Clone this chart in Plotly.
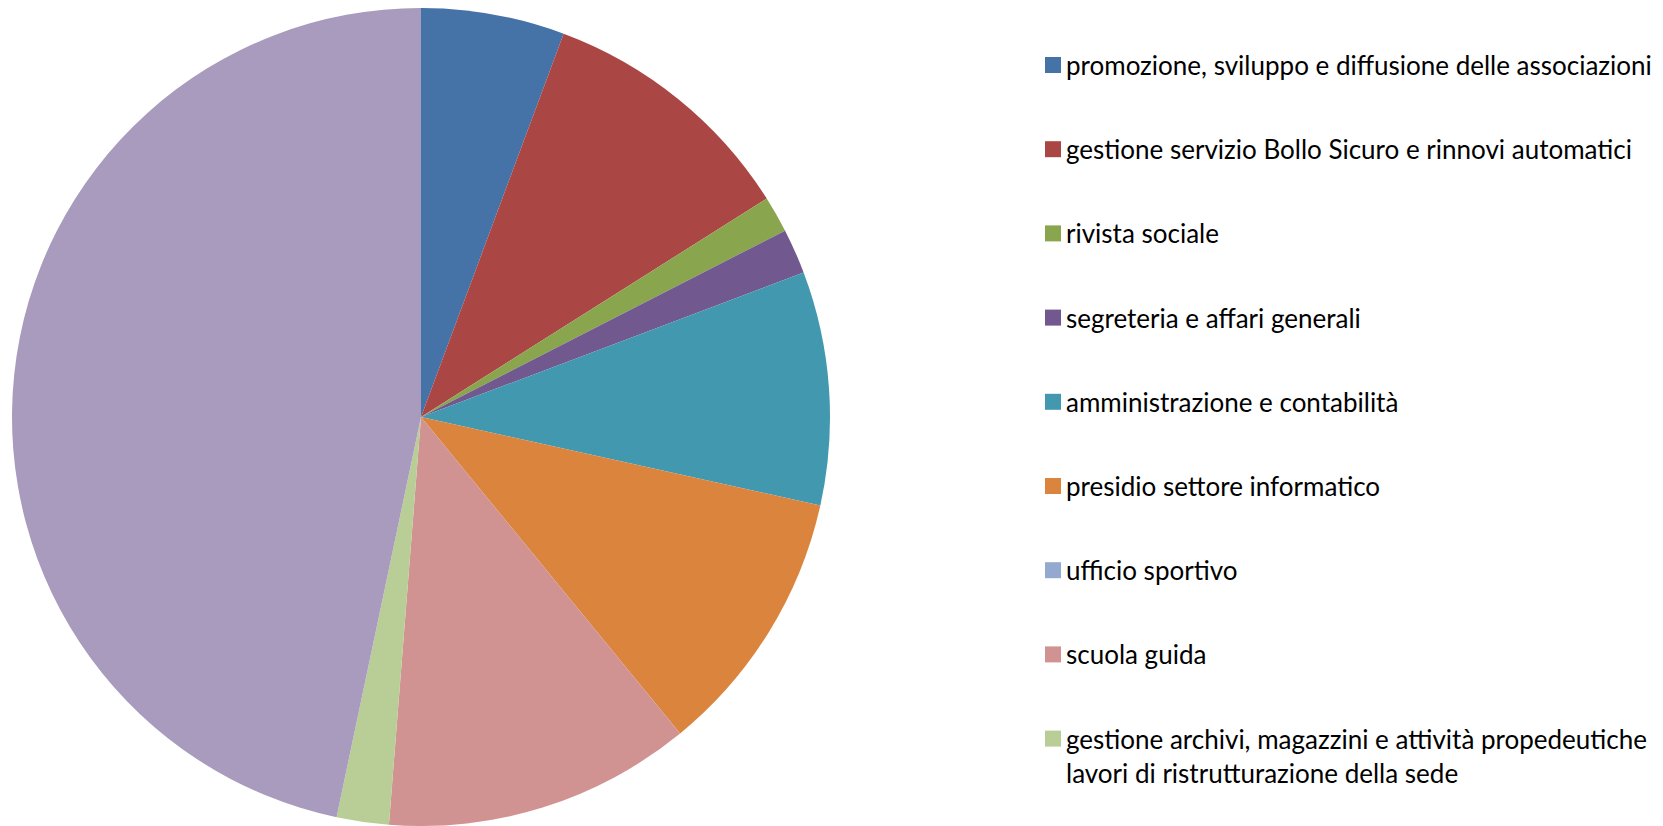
import plotly.graph_objects as go

categories = [
    "promozione, sviluppo e diffusione delle associazioni",
    "gestione servizio Bollo Sicuro e rinnovi automatici",
    "rivista sociale",
    "segreteria e affari generali",
    "amministrazione e contabilità",
    "presidio settore informatico",
    "ufficio sportivo",
    "scuola guida",
    "gestione archivi, magazzini e attività propedeutiche<br>lavori di ristrutturazione della sede",
    "altre attività",
]
values = [5.67, 10.36, 1.44, 1.78, 9.22, 10.61, 0.0, 12.17, 2.06, 46.69]
colors = ["#4572A7", "#AA4643", "#89A54E", "#71588F", "#4198AF",
          "#DB843D", "#93A9CF", "#D19392", "#B9CD96", "#A99BBD"]
legend_count = 9  # entries visible in the legend

W, H = 1663, 826
FONT = "Lato"

fig = go.Figure(go.Pie(
    labels=categories,
    values=values,
    marker=dict(colors=colors, line=dict(width=0)),
    sort=False,
    direction="clockwise",
    rotation=0,
    textinfo="none",
    showlegend=False,
    domain=dict(x=[12 / W, 830 / W], y=[0, 818 / H]),
))

shapes = []
annotations = []
y0 = 65.0
step = 84.2
line_gap = 34.0
for i in range(legend_count):
    cy = y0 + i * step
    shapes.append(dict(
        type="rect", xref="paper", yref="paper",
        x0=1045 / W, x1=1061 / W,
        y0=1 - (cy + 8) / H, y1=1 - (cy - 8) / H,
        fillcolor=colors[i], line=dict(width=0),
    ))
    for j, part in enumerate(categories[i].split("<br>")):
        annotations.append(dict(
            xref="paper", yref="paper",
            x=1064 / W, y=1 - (cy + j * line_gap) / H,
            xanchor="left", yanchor="middle",
            text=part, showarrow=False,
            font=dict(family=FONT, size=26, color="#000000"),
        ))

fig.update_layout(
    width=W, height=H,
    margin=dict(l=0, r=0, t=0, b=0),
    paper_bgcolor="white",
    plot_bgcolor="white",
    shapes=shapes,
    annotations=annotations,
    font=dict(family=FONT),
)

fig.write_html(
    "out.html",
    config={"displayModeBar": False},
    post_script="document.body.style.margin='0';document.body.style.overflow='hidden';",
)
